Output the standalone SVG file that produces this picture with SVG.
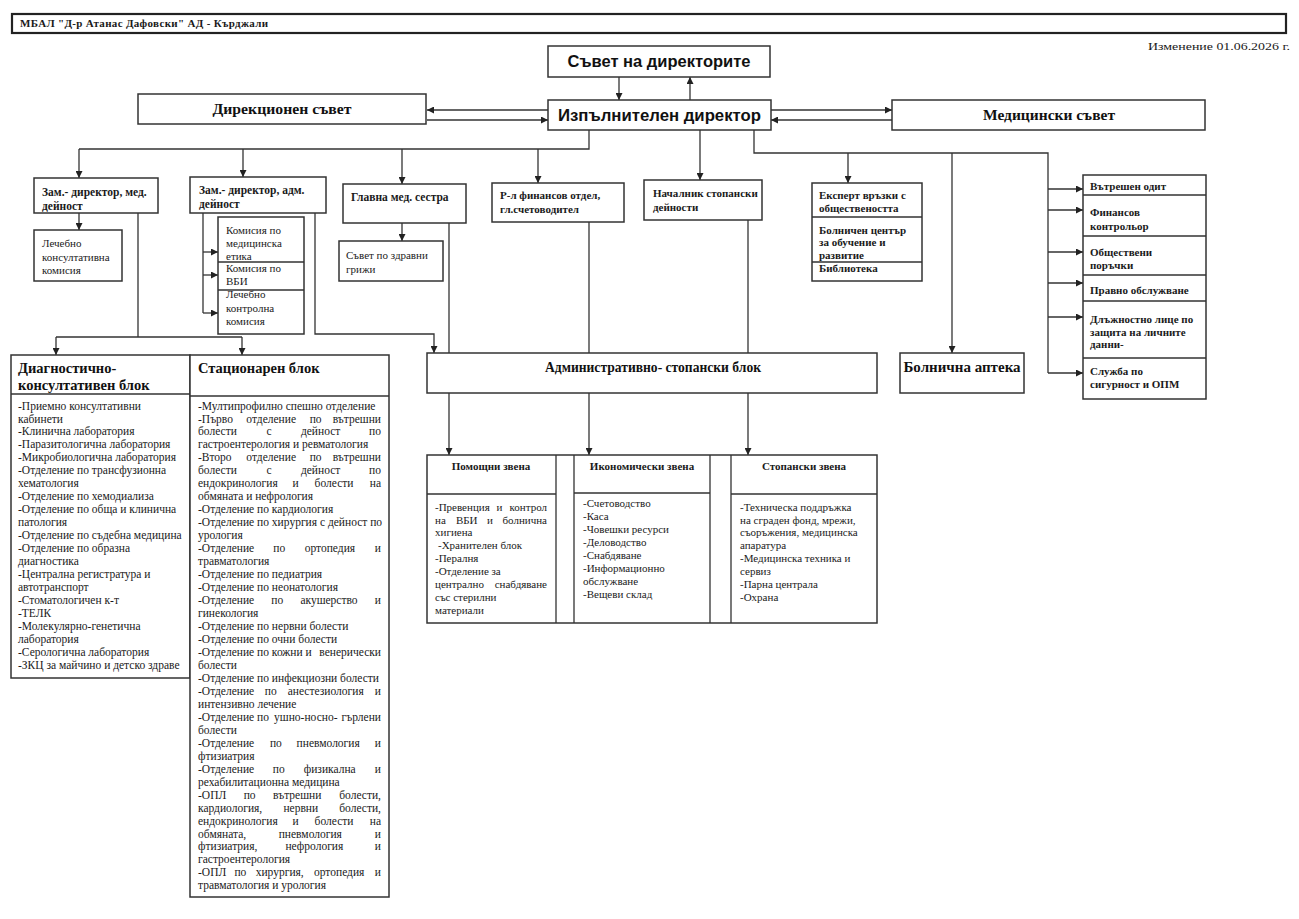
<svg xmlns="http://www.w3.org/2000/svg" width="1299" height="919" viewBox="0 0 1299 919">
<defs>
<marker id="ah" viewBox="0 0 10 10" refX="10" refY="5" markerWidth="7" markerHeight="7" markerUnits="userSpaceOnUse" orient="auto">
<path d="M0,0 L10,5 L0,10 z" fill="#222"/>
</marker>
<style>
.box{fill:#fff;stroke:#333;stroke-width:1.5}
.dv{fill:none;stroke:#333;stroke-width:1.3}
.ln{fill:none;stroke:#333;stroke-width:1.3}
.a{marker-end:url(#ah)}
.t{font-family:"Liberation Serif",serif;font-size:11px;fill:#1a1a1a}
.bt{font-size:11.5px}
.b{font-weight:bold}
.h{font-family:"Liberation Sans",sans-serif;font-weight:bold;font-size:17px;fill:#111}
.hs{font-family:"Liberation Serif",serif;font-weight:bold;font-size:15px;fill:#111}
.hb{font-family:"Liberation Serif",serif;font-weight:bold;font-size:14.5px;fill:#111}
.m{text-anchor:middle}
.e{text-anchor:end}
</style>
</defs>
<rect width="1299" height="919" fill="#fff"/>

<g id="header">
<rect x="12" y="14" width="1274" height="19" fill="#fff" stroke="#222" stroke-width="2.2"/>
<text class="t b" x="20" y="27" font-size="9" textLength="248" lengthAdjust="spacing">МБАЛ "Д-р Атанас Дафовски" АД - Кърджали</text>
</g>
<g id="revision">
<text class="t" x="1290" y="50" font-size="14" text-anchor="end" textLength="142" lengthAdjust="spacingAndGlyphs">Изменение 01.06.2026 г.</text>
</g>

<g id="connectors">
<path class="ln a" d="M619 77 V100"/>
<path class="ln a" d="M690 100 V77"/>
<path class="ln a" d="M548 110 H427"/>
<path class="ln a" d="M427 120 H548"/>
<path class="ln a" d="M771 110 H892"/>
<path class="ln a" d="M892 120 H771"/>
<path class="ln" d="M589 130 V149 H79"/>
<path class="ln a" d="M79 149 V178"/>
<path class="ln a" d="M243 149 V177"/>
<path class="ln a" d="M402 149 V184"/>
<path class="ln a" d="M538 149 V183"/>
<path class="ln a" d="M700 130 V180"/>
<path class="ln" d="M754 130 V153 H1048 V373"/>
<path class="ln a" d="M848 153 V183"/>
<path class="ln a" d="M952 153 V353"/>
<path class="ln a" d="M1048 189 H1083"/>
<path class="ln a" d="M1048 210 H1083"/>
<path class="ln a" d="M1048 252 H1083"/>
<path class="ln a" d="M1048 283 H1083"/>
<path class="ln a" d="M1048 317 H1083"/>
<path class="ln a" d="M1048 373 H1083"/>
<path class="ln a" d="M79 213 V230"/>
<path class="ln" d="M138 213 V337 M56 337 H242"/>
<path class="ln a" d="M56 337 V355"/>
<path class="ln a" d="M242 337 V355"/>
<path class="ln" d="M203 213 V313"/>
<path class="ln a" d="M203 252 H218"/>
<path class="ln a" d="M203 275 H218"/>
<path class="ln a" d="M203 313 H218"/>
<path class="ln a" d="M315 213 V334 H434 V353"/>
<path class="ln a" d="M402 223 V241"/>
<path class="ln" d="M449 223 V353"/>
<path class="ln" d="M589 222 V353"/>
<path class="ln" d="M748 220 V353"/>
<path class="ln a" d="M449 393 V455"/>
<path class="ln a" d="M589 393 V455"/>
<path class="ln a" d="M748 393 V455"/>
</g>

<g id="board">
<rect class="box" x="548" y="46" width="222" height="31"/>
<text class="h m" x="659" y="67" textLength="183" lengthAdjust="spacingAndGlyphs">Съвет на директорите</text>
</g>
<g id="exec">
<rect class="box" x="548" y="100" width="223" height="30"/>
<text class="h m" x="659.5" y="121" font-size="18" textLength="203" lengthAdjust="spacingAndGlyphs">Изпълнителен директор</text>
</g>
<g id="direction-council">
<rect class="box" x="138" y="94" width="288" height="30"/>
<text class="hs m" x="282" y="114" textLength="139" lengthAdjust="spacingAndGlyphs">Дирекционен съвет</text>
</g>
<g id="medical-council">
<rect class="box" x="892" y="100" width="313" height="30"/>
<text class="hs m" x="1049" y="120" textLength="132" lengthAdjust="spacingAndGlyphs">Медицински съвет</text>
</g>

<g id="deputy-med">
<rect class="box" x="34" y="178" width="124" height="35"/>
<text class="t b bt" x="42" y="196">Зам.- директор, мед.</text>
<text class="t b bt" x="42" y="210">дейност</text>
</g>
<g id="treat-consult">
<rect class="box" x="34" y="230" width="88" height="51"/>
<text class="t" x="42" y="247">Лечебно</text>
<text class="t" x="42" y="261">консултативна</text>
<text class="t" x="42" y="274">комисия</text>
</g>
<g id="deputy-adm">
<rect class="box" x="190" y="177" width="136" height="36"/>
<text class="t b bt" x="199" y="194">Зам.- директор, адм.</text>
<text class="t b bt" x="199" y="208">дейност</text>
</g>
<g id="commissions">
<rect class="box" x="218" y="217" width="86" height="117"/>
<path class="dv" d="M218 262 H304 M218 290 H304"/>
<text class="t" x="226" y="233.5">Комисия по</text>
<text class="t" x="226" y="246.5">медицинска</text>
<text class="t" x="226" y="259.5">етика</text>
<text class="t" x="226" y="271.5">Комисия по</text>
<text class="t" x="226" y="285" font-size="12">ВБИ</text>
<text class="t" x="226" y="297.5">Лечебно</text>
<text class="t" x="226" y="311.5">контролна</text>
<text class="t" x="226" y="324.5">комисия</text>
</g>
<g id="head-nurse">
<rect class="box" x="343" y="184" width="123" height="39"/>
<text class="t b bt" x="351" y="201">Главна мед. сестра</text>
</g>
<g id="care-council">
<rect class="box" x="339" y="241" width="104" height="40"/>
<text class="t" x="346" y="259">Съвет по здравни</text>
<text class="t" x="346" y="273">грижи</text>
</g>
<g id="finance">
<rect class="box" x="492" y="183" width="132" height="39"/>
<text class="t b" x="500" y="199">Р-л финансов отдел,</text>
<text class="t b" x="500" y="213">гл.счетоводител</text>
</g>
<g id="economic-head">
<rect class="box" x="644" y="180" width="118" height="40"/>
<text class="t b" x="653" y="197" font-size="10.6">Началник стопански</text>
<text class="t b" x="653" y="211" font-size="10.6">дейности</text>
</g>
<g id="pr-expert">
<rect class="box" x="812" y="183" width="110" height="98"/>
<path class="dv" d="M812 217 H922 M812 262 H922"/>
<text class="t b" x="819" y="199">Експерт връзки с</text>
<text class="t b" x="819" y="212">обществеността</text>
<text class="t b" x="819" y="234">Болничен център</text>
<text class="t b" x="819" y="246">за обучение и</text>
<text class="t b" x="819" y="259">развитие</text>
<text class="t b" x="819" y="272">Библиотека</text>
</g>
<g id="pharmacy">
<rect class="box" x="900" y="353" width="124" height="40"/>
<text class="hs m" x="962" y="372" font-size="16">Болнична аптека</text>
</g>
<g id="control-units">
<rect class="box" x="1083" y="175" width="123" height="224"/>
<path class="dv" d="M1083 195 H1206 M1083 236 H1206 M1083 275 H1206 M1083 301 H1206 M1083 358 H1206"/>
<text class="t b" x="1090" y="189.5">Вътрешен одит</text>
<text class="t b" x="1090" y="215.5">Финансов</text>
<text class="t b" x="1090" y="229.5">контрольор</text>
<text class="t b" x="1090" y="255.5">Обществени</text>
<text class="t b" x="1090" y="268.5">поръчки</text>
<text class="t b" x="1090" y="293.5">Правно обслужване</text>
<text class="t b" x="1090" y="322.5">Длъжностно лице по</text>
<text class="t b" x="1090" y="335.5">защита на личните</text>
<text class="t b" x="1090" y="347.5">данни-</text>
<text class="t b" x="1090" y="374.5">Служба по</text>
<text class="t b" x="1090" y="387.5">сигурност и ОПМ</text>
</g>

<g id="diag-block">
<rect class="box" x="11" y="355" width="179" height="323"/>
<path class="dv" d="M11 394 H190"/>
<text class="hb" x="18" y="373">Диагностично-</text>
<text class="hb" x="18" y="390">консултативен блок</text>
<g class="t bt">
<text x="18" y="409.5">-Приемно консултативни</text>
<text x="18" y="422.5">кабинети</text>
<text x="18" y="435.4">-Клинична лаборатория</text>
<text x="18" y="448.4">-Паразитологична лаборатория</text>
<text x="18" y="461.3">-Микробиологична лаборатория</text>
<text x="18" y="474.3">-Отделение по трансфузионна</text>
<text x="18" y="487.2">хематология</text>
<text x="18" y="500.2">-Отделение по хемодиализа</text>
<text x="18" y="513.1">-Отделение по обща и клинична</text>
<text x="18" y="526.1">патология</text>
<text x="18" y="539">-Отделение по съдебна медицина</text>
<text x="18" y="552">-Отделение по образна</text>
<text x="18" y="564.9">диагностика</text>
<text x="18" y="577.9">-Централна регистратура и</text>
<text x="18" y="590.8">автотранспорт</text>
<text x="18" y="603.8">-Стоматологичен к-т</text>
<text x="18" y="616.7">-ТЕЛК</text>
<text x="18" y="629.7">-Молекулярно-генетична</text>
<text x="18" y="642.6">лаборатория</text>
<text x="18" y="655.6">-Серологична лаборатория</text>
<text x="18" y="668.5">-ЗКЦ за майчино и детско здраве</text>
</g>
</g>

<g id="inpatient-block">
<rect class="box" x="190" y="355" width="199" height="542"/>
<path class="dv" d="M190 396 H389"/>
<text class="hb" x="198" y="373">Стационарен блок</text>
<g class="t bt">
<text x="198" y="409.5">-Мултипрофилно спешно отделение</text>
<text x="198" y="422.5">-Първо</text><text class="m" x="271.2" y="422.5">отделение</text><text class="m" x="315.6" y="422.5">по</text><text class="e" x="381" y="422.5">вътрешни</text>
<text x="198" y="435.4">болести</text><text class="m" x="269" y="435.4">с</text><text class="m" x="320.6" y="435.4">дейност</text><text class="e" x="381" y="435.4">по</text>
<text x="198" y="448.4">гастроентерология и ревматология</text>
<text x="198" y="461.4">-Второ</text><text class="m" x="271.2" y="461.4">отделение</text><text class="m" x="315.6" y="461.4">по</text><text class="e" x="381" y="461.4">вътрешни</text>
<text x="198" y="474.4">болести</text><text class="m" x="269" y="474.4">с</text><text class="m" x="320.6" y="474.4">дейност</text><text class="e" x="381" y="474.4">по</text>
<text x="198" y="487.3">ендокринология</text><text class="m" x="295.5" y="487.3">и</text><text class="m" x="334" y="487.3">болести</text><text class="e" x="381" y="487.3">на</text>
<text x="198" y="500.3">обмяната и нефрология</text>
<text x="198" y="513.3">-Отделение по кардиология</text>
<text x="198" y="526.2">-Отделение по хирургия с дейност по</text>
<text x="198" y="539.2">урология</text>
<text x="198" y="552.2">-Отделение</text><text class="m" x="279.2" y="552.2">по</text><text class="m" x="329.9" y="552.2">ортопедия</text><text class="e" x="381" y="552.2">и</text>
<text x="198" y="565.1">травматология</text>
<text x="198" y="578.1">-Отделение по педиатрия</text>
<text x="198" y="591.1">-Отделение по неонатология</text>
<text x="198" y="604">-Отделение</text><text class="m" x="277.3" y="604">по</text><text class="m" x="329" y="604">акушерство</text><text class="e" x="381" y="604">и</text>
<text x="198" y="617">гинекология</text>
<text x="198" y="630">-Отделение по нервни болести</text>
<text x="198" y="643">-Отделение по очни болести</text>
<text x="198" y="655.9">-Отделение по кожни и</text><text class="e" x="381" y="655.9">венерически</text>
<text x="198" y="668.9">болести</text>
<text x="198" y="681.9">-Отделение по инфекциозни болести</text>
<text x="198" y="694.8">-Отделение</text><text class="m" x="270.7" y="694.8">по</text><text class="m" x="325.7" y="694.8">анестезиология</text><text class="e" x="381" y="694.8">и</text>
<text x="198" y="707.8">интензивно лечение</text>
<text x="198" y="720.8">-Отделение по</text><text class="m" x="305.8" y="720.8">ушно-носно-</text><text class="e" x="381" y="720.8">гърлени</text>
<text x="198" y="733.7">болести</text>
<text x="198" y="746.7">-Отделение</text><text class="m" x="275.9" y="746.7">по</text><text class="m" x="328.2" y="746.7">пневмология</text><text class="e" x="381" y="746.7">и</text>
<text x="198" y="759.7">фтизиатрия</text>
<text x="198" y="772.6">-Отделение</text><text class="m" x="278.8" y="772.6">по</text><text class="m" x="329.7" y="772.6">физикална</text><text class="e" x="381" y="772.6">и</text>
<text x="198" y="785.6">рехабилитационна медицина</text>
<text x="198" y="798.6">-ОПЛ</text><text class="m" x="249.6" y="798.6">по</text><text class="m" x="297.2" y="798.6">вътрешни</text><text class="e" x="381" y="798.6">болести,</text>
<text x="198" y="811.5">кардиология,</text><text class="m" x="300.8" y="811.5">нервни</text><text class="e" x="381" y="811.5">болести,</text>
<text x="198" y="824.5">ендокринология</text><text class="m" x="295.5" y="824.5">и</text><text class="m" x="334" y="824.5">болести</text><text class="e" x="381" y="824.5">на</text>
<text x="198" y="837.5">обмяната,</text><text class="m" x="310.3" y="837.5">пневмология</text><text class="e" x="381" y="837.5">и</text>
<text x="198" y="850.4">фтизиатрия,</text><text class="m" x="314.4" y="850.4">нефрология</text><text class="e" x="381" y="850.4">и</text>
<text x="198" y="863.4">гастроентерология</text>
<text x="198" y="876.4">-ОПЛ</text><text class="m" x="240.4" y="876.4">по</text><text class="m" x="279.7" y="876.4">хирургия,</text><text class="m" x="339.2" y="876.4">ортопедия</text><text class="e" x="381" y="876.4">и</text>
<text x="198" y="889.3">травматология и урология</text>
</g>
</g>

<g id="admin-block">
<rect class="box" x="427" y="353" width="450" height="40"/>
<text class="hs m" x="653" y="372" textLength="216" lengthAdjust="spacingAndGlyphs">Административно- стопански блок</text>
</g>

<g id="unit-table">
<rect class="box" x="427" y="455" width="450" height="168"/>
<path class="dv" d="M556 455 V623 M574 455 V623 M710 455 V623 M731 455 V623"/>
<path class="dv" d="M427 494 H556 M574 493 H710 M731 494 H877"/>
</g>
<g id="support-units">
<text class="t b m" x="491" y="470" font-size="10.5">Помощни звена</text>
<g class="t">
<text x="435" y="510.5">-Превенция</text><text class="m" x="499.5" y="510.5">и</text><text class="e" x="547" y="510.5">контрол</text>
<text x="435" y="523.5">на</text><text class="m" x="466.7" y="523.5">ВБИ</text><text class="m" x="490" y="523.5">и</text><text class="e" x="547" y="523.5">болнична</text>
<text x="435" y="535.5">хигиена</text>
<text x="438" y="548.5">-Хранителен  блок</text>
<text x="435" y="561.5">-Пералня</text>
<text x="435" y="574.5">-Отделение за</text>
<text x="435" y="587.5">централно</text><text class="e" x="547" y="587.5">снабдяване</text>
<text x="435" y="600.5">със стерилни</text>
<text x="435" y="613.5">материали</text>
</g>
</g>
<g id="economic-units">
<text class="t b m" x="642" y="470" font-size="10.5">Икономически звена</text>
<g class="t">
<text x="583" y="506.5">-Счетоводство</text>
<text x="583" y="519.5">-Каса</text>
<text x="583" y="532.5">-Човешки ресурси</text>
<text x="583" y="545.5">-Деловодство</text>
<text x="583" y="558.5">-Снабдяване</text>
<text x="583" y="571.5">-Информационно</text>
<text x="583" y="584.5">обслужване</text>
<text x="583" y="597.5">-Вещеви склад</text>
</g>
</g>
<g id="facility-units">
<text class="t b m" x="804" y="470" font-size="10.5">Стопански звена</text>
<g class="t">
<text x="740" y="510.5">-Техническа поддръжка</text>
<text x="740" y="524">на сграден фонд, мрежи,</text>
<text x="740" y="535.5">съоръжения, медицинска</text>
<text x="740" y="548.5">апаратура</text>
<text x="740" y="561.5">-Медицинска техника и</text>
<text x="740" y="574.5">сервиз</text>
<text x="740" y="587.5">-Парна централа</text>
<text x="740" y="600.5">-Охрана</text>
</g>
</g>
</svg>
